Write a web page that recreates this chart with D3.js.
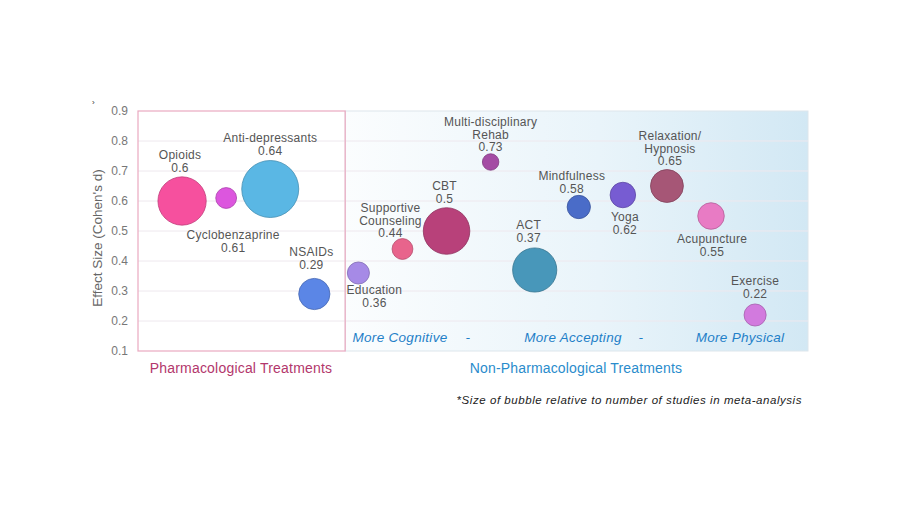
<!DOCTYPE html>
<html>
<head>
<meta charset="utf-8">
<script src="https://cdn.jsdelivr.net/npm/d3@7"></script>
<style>
  body { margin: 0; background: #fff; }
  svg { font-family: "Liberation Sans", Arial, sans-serif; }
</style>
</head>
<body>
<div id="chart"></div>
<script>
// Treatments, in the order they stand along the x axis.
const treatments = ["Opioids", "Cyclobenzaprine", "Anti-depressants", "NSAIDs",
    "Education", "Supportive Counseling", "CBT", "Multi-disciplinary Rehab", "ACT",
    "Mindfulness", "Yoga", "Relaxation/ Hypnosis", "Acupuncture", "Exercise"];
// Lines each label is broken into.
const labelLines = [["Opioids"], ["Cyclobenzaprine"], ["Anti-depressants"], ["NSAIDs"],
    ["Education"], ["Supportive", "Counseling"], ["CBT"], ["Multi-disciplinary", "Rehab"], ["ACT"],
    ["Mindfulness"], ["Yoga"], ["Relaxation/", "Hypnosis"], ["Acupuncture"], ["Exercise"]];
const groups = ["pharm", "pharm", "pharm", "pharm", "non", "non", "non", "non", "non",
    "non", "non", "non", "non", "non"];
// Effect size (Cohen's d).
const effectSize = [0.6, 0.61, 0.64, 0.29, 0.36, 0.44, 0.5, 0.73, 0.37, 0.58, 0.62, 0.65, 0.55, 0.22];
// Relative number of studies (bubble size), estimated.
const studies = [43, 8, 60, 18, 9, 8, 40, 5, 36, 10, 12, 20, 13, 9];
const yTicks = [0.1, 0.2, 0.3, 0.4, 0.5, 0.6, 0.7, 0.8, 0.9];
const subHeadings = ["More Cognitive", "-", "More Accepting", "-", "More Physical"];

// Styling: colours and label offsets from the bubble centre.
const colors = ["#f6509e", "#dc56de", "#5ab7e4", "#5b86e6", "#a68ae6", "#e8648c", "#b8417a",
    "#a44ca4", "#4897ba", "#4a6cc8", "#775cd2", "#a65676", "#e87bc4", "#d27ade"];
const labelDx = [-2, 7, 0, -3, 16, -12, -2, 0, -6, -7, 2, 3, 1, 0];
const labelDy = [-46, 37, -51, -42, 17, -41, -45, -40, -45, -31, 22, -50, 23, -34];
const lineHeight = 12.5;

const width = 900;
const height = 517;

const svg = d3.select("#chart").append("svg")
    .attr("width", width)
    .attr("height", height);

// Scales
const x = d3.scaleLinear().domain([0, 15.2]).range([138, 808]);
const y = d3.scaleLinear().domain([0.1, 0.9]).range([351, 111]);
const r = d3.scaleSqrt().domain([0, 60]).range([0, 28.5]);

const splitX = x(4.7);

// Background gradient for non-pharmacological panel
const defs = svg.append("defs");
const grad = defs.append("linearGradient").attr("id", "bluegrad")
    .attr("x1", "0%").attr("x2", "100%").attr("y1", "0%").attr("y2", "0%");
grad.append("stop").attr("offset", "0%").attr("stop-color", "#fbfdfe");
grad.append("stop").attr("offset", "55%").attr("stop-color", "#e9f4fa");
grad.append("stop").attr("offset", "100%").attr("stop-color", "#d2e8f4");

svg.append("rect")
    .attr("x", splitX).attr("y", y(0.9))
    .attr("width", x(15.2) - splitX).attr("height", y(0.1) - y(0.9))
    .attr("fill", "url(#bluegrad)")
    .attr("stroke", "#dde6ec")
    .attr("stroke-width", 1);

// Gridlines
svg.append("g")
    .selectAll("line")
    .data(yTicks.slice(1, -1))
    .enter()
    .append("line")
    .attr("x1", x(0)).attr("x2", x(15.2))
    .attr("y1", d => y(d)).attr("y2", d => y(d))
    .attr("stroke", "#eee8ee")
    .attr("stroke-width", 1);

// Pharmacological box
svg.append("rect")
    .attr("x", x(0)).attr("y", y(0.9))
    .attr("width", splitX - x(0)).attr("height", y(0.1) - y(0.9))
    .attr("fill", "none")
    .attr("stroke", "#e9a9c0")
    .attr("stroke-width", 1.2);

// Y axis
const gy = svg.append("g")
    .attr("transform", `translate(${x(0)},0)`)
    .call(d3.axisLeft(y).tickValues(yTicks).tickFormat(d3.format(".1f")).tickSize(0).tickPadding(10));
gy.select(".domain").remove();
gy.selectAll("text")
    .attr("fill", "#777")
    .style("font-size", "12px");

svg.append("text")
    .attr("transform", "rotate(-90)")
    .attr("x", -238)
    .attr("y", 102)
    .attr("text-anchor", "middle")
    .attr("fill", "#666")
    .style("font-size", "13.5px")
    .text("Effect Size (Cohen's d)");

svg.append("text")
    .attr("x", 92).attr("y", 105)
    .attr("fill", "#333")
    .style("font-size", "8px")
    .text("›");

// Bubbles
const data = treatments.map((t, i) => ({
    name: t, lines: labelLines[i], group: groups[i],
    d: effectSize[i], n: studies[i], pos: i + 1, i: i
}));

svg.append("g")
    .selectAll("circle")
    .data(data)
    .enter()
    .append("circle")
    .attr("cx", d => x(d.pos))
    .attr("cy", d => y(d.d))
    .attr("r", d => r(d.n))
    .attr("fill", d => colors[d.i])
    .attr("stroke", d => d3.color(colors[d.i]).darker(0.7))
    .attr("stroke-width", 0.8);

// Labels
const labels = svg.append("g")
    .selectAll("text")
    .data(data)
    .enter()
    .append("text")
    .attr("text-anchor", "middle")
    .attr("fill", "#555")
    .style("font-size", "12px")
    .style("letter-spacing", "0.25px");

labels.each(function (d) {
    const t = d3.select(this);
    const cx = x(d.pos) + labelDx[d.i];
    const cy = y(d.d) + labelDy[d.i] + 4;
    d.lines.concat([String(d.d)]).forEach((line, k) => {
        t.append("tspan")
            .attr("x", cx)
            .attr("y", cy + k * lineHeight)
            .text(line);
    });
});

// Sub headings inside non-pharmacological panel
const subX = [400, 468, 573, 641, 740];
svg.append("g")
    .selectAll("text")
    .data(subHeadings)
    .enter()
    .append("text")
    .attr("x", (d, i) => subX[i])
    .attr("y", 342)
    .attr("text-anchor", "middle")
    .attr("fill", "#1f80c8")
    .style("font-size", "13.5px")
    .style("letter-spacing", "0.3px")
    .style("font-style", "italic")
    .text(d => d);

// Group titles
svg.append("text")
    .attr("x", 241)
    .attr("y", 373)
    .attr("text-anchor", "middle")
    .attr("fill", "#b3376c")
    .style("font-size", "14px")
    .style("letter-spacing", "0.2px")
    .text("Pharmacological Treatments");

svg.append("text")
    .attr("x", 576)
    .attr("y", 373)
    .attr("text-anchor", "middle")
    .attr("fill", "#2a8ccc")
    .style("font-size", "14px")
    .style("letter-spacing", "0.15px")
    .text("Non-Pharmacological Treatments");

svg.append("text")
    .attr("x", 802)
    .attr("y", 404)
    .attr("text-anchor", "end")
    .attr("fill", "#222")
    .style("font-size", "11.5px")
    .style("letter-spacing", "0.55px")
    .style("font-style", "italic")
    .text("*Size of bubble relative to number of studies in meta-analysis");
</script>
</body>
</html>
